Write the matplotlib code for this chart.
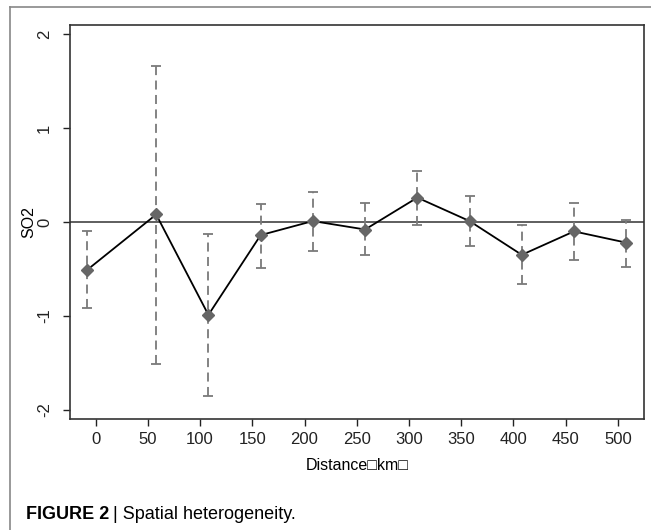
import matplotlib
matplotlib.use("Agg")
import matplotlib.pyplot as plt
from matplotlib.lines import Line2D

plt.rcParams['font.family'] = ['Liberation Sans', 'DejaVu Sans']

distance = [-8, 58, 108, 158, 208, 258, 308, 358, 408, 458, 508]
coef = [-0.51, 0.08, -0.99, -0.14, 0.01, -0.08, 0.26, 0.01, -0.35, -0.10, -0.22]
upper = [-0.10, 1.66, -0.125, 0.19, 0.32, 0.20, 0.54, 0.28, -0.03, 0.20, 0.02]
lower = [-0.92, -1.51, -1.85, -0.49, -0.31, -0.35, -0.03, -0.26, -0.66, -0.41, -0.48]
xticks = [0, 50, 100, 150, 200, 250, 300, 350, 400, 450, 500]
yticks = [-2, -1, 0, 1, 2]

fig = plt.figure(figsize=(6.51, 5.30), dpi=100)
ax = fig.add_axes([70/651, 1-419/530, (644-70)/651, (419-25)/530])

yerr = [[c - l for c, l in zip(coef, lower)], [u - c for c, u in zip(coef, upper)]]
eb = ax.errorbar(distance, coef, yerr=yerr, fmt='none', ecolor='#7a7a7a',
                 elinewidth=1.3, capsize=3.5, capthick=1.3, zorder=2)
for lc in eb[2]:
    lc.set_linestyle((0, (5, 3)))
ax.axhline(0, color='#333333', lw=1.1, zorder=1)
ax.plot(distance, coef, color='black', lw=1.3, zorder=3)
ax.plot(distance, coef, linestyle='none', marker='D', ms=6.5, color='#666666',
        markeredgecolor='#666666', zorder=4)

ax.set_xlim(-24.5, 525)
ax.set_ylim(-2.10, 2.10)
ax.set_xticks(xticks)
ax.set_yticks(yticks)
ax.set_yticklabels([str(v) for v in yticks], rotation=90, va='center')
ax.tick_params(direction='out', length=5, width=1, colors='#222222', labelsize=12)
ax.tick_params(axis='y', pad=8)
ax.tick_params(axis='x', pad=4)
for s in ax.spines.values():
    s.set_color('#333333')
    s.set_linewidth(1.2)
ax.set_xlabel('Distance\u25a1km\u25a1', fontsize=11.5)
ax.set_ylabel('SO2', fontsize=11.5)
ax.yaxis.set_label_coords((29 - 70) / 574, 0.5)
ax.xaxis.set_label_coords(0.5, -(466 - 419) / 394)
ax.xaxis.label.set_va('center')
ax.yaxis.label.set_va('center')

# panel frame
fig.add_artist(Line2D([9.5/651, 1], [1-7/530, 1-7/530], color='#888888', lw=1.2))
fig.add_artist(Line2D([9.5/651, 9.5/651], [0, 1-7/530], color='#888888', lw=1.2))

fig.text(26/651, 1-519/530, 'FIGURE 2', fontsize=13, fontweight='bold', va='baseline')
fig.text(113/651, 1-519/530, '| Spatial heterogeneity.', fontsize=13, va='baseline')

fig.savefig('out.png', dpi=100)
